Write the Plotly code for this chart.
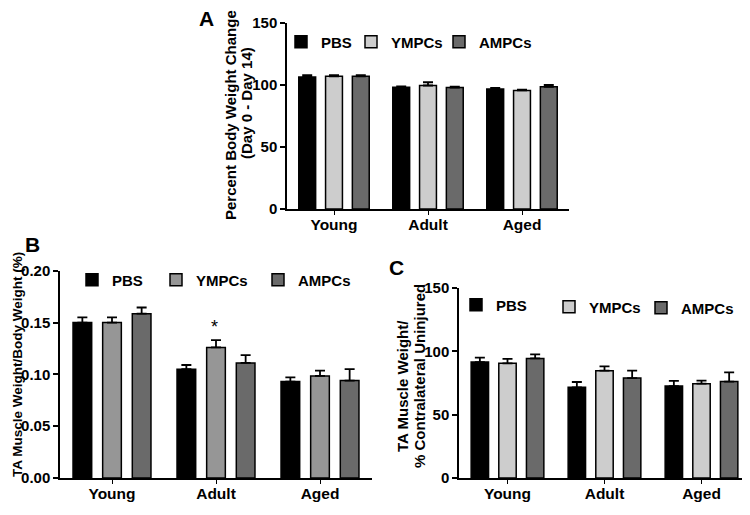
import plotly.graph_objects as go

groups = ["Young", "Adult", "Aged"]
series = ["PBS", "YMPCs", "AMPCs"]

# Panel A: Percent body weight change (Day 0 - Day 14)
a_pbs = [106.5, 98.2, 96.7]
a_pbs_err = [1.5, 0.6, 1.0]
a_ympc = [107.0, 99.6, 95.6]
a_ympc_err = [1.0, 2.6, 0.6]
a_ampc = [107.0, 98.0, 98.6]
a_ampc_err = [1.0, 0.6, 1.4]

# Panel B: TA muscle weight / body weight (%)
b_pbs = [0.150, 0.105, 0.093]
b_pbs_err = [0.005, 0.004, 0.004]
b_ympc = [0.150, 0.126, 0.0985]
b_ympc_err = [0.005, 0.007, 0.005]
b_ampc = [0.1585, 0.111, 0.094]
b_ampc_err = [0.006, 0.0075, 0.011]

# Panel C: TA muscle weight / % contralateral uninjured
c_pbs = [91.5, 71.6, 72.6]
c_pbs_err = [3.6, 4.2, 4.0]
c_ympc = [90.5, 84.7, 74.5]
c_ympc_err = [3.5, 3.4, 2.3]
c_ampc = [94.4, 78.9, 76.1]
c_ampc_err = [3.2, 5.8, 7.3]

# page has an 8px body margin; figure is sized to fit inside the window
OFF = 8
W, H = 742, 499
FONT = "Arial, Liberation Sans, sans-serif"


def px(x):
    return (x - OFF) / W


def py(y):
    return 1 - (y - OFF) / H


panels = [
    ("x", "y", [a_pbs, a_ympc, a_ampc], [a_pbs_err, a_ympc_err, a_ampc_err],
     ["#000000", "#cdcdcd", "#6a6a6a"], ["legend", "legend2", "legend3"],
     [(297, 42), (367, 42), (455, 42)]),
    ("x2", "y2", [b_pbs, b_ympc, b_ampc], [b_pbs_err, b_ympc_err, b_ampc_err],
     ["#000000", "#969696", "#6a6a6a"], ["legend4", "legend5", "legend6"],
     [(88, 280), (172, 280), (274, 280)]),
    ("x3", "y3", [c_pbs, c_ympc, c_ampc], [c_pbs_err, c_ympc_err, c_ampc_err],
     ["#000000", "#cdcdcd", "#6a6a6a"], ["legend7", "legend8", "legend9"],
     [(472, 305), (565, 307), (657, 308)]),
]

fig = go.Figure()
layout_legends = {}
for xa, ya, vals, errs, cols, legs, legpos in panels:
    for name, v, e, c, lg, (lx, ly) in zip(series, vals, errs, cols, legs, legpos):
        fig.add_trace(go.Bar(
            x=groups, y=v, name=name, xaxis=xa, yaxis=ya, legend=lg,
            offsetgroup=name,
            marker=dict(color=c, line=dict(color="#000000", width=1.5)),
            error_y=dict(type="data", array=e, arrayminus=[0] * len(e),
                         symmetric=False, color="#000000", thickness=1.8, width=5),
        ))
        layout_legends[lg] = dict(
            x=px(lx - 16), y=py(ly), xanchor="left", yanchor="middle",
            bgcolor="rgba(0,0,0,0)", borderwidth=0,
            font=dict(family=FONT, size=15, color="#000000", weight="bold"),
            itemwidth=30, tracegroupgap=0,
        )

axis_common = dict(showline=True, linecolor="#000000", linewidth=1.5,
                   showgrid=False, zeroline=False, ticks="outside",
                   tickcolor="#000000", mirror=False, automargin=False,
                   tickfont=dict(family=FONT, size=15, color="#000000", weight="bold"))
xfont = dict(family=FONT, size=15.5, color="#000000", weight="bold")
xax = dict(ticklen=4, tickwidth=1, tickfont=xfont, ticklabelstandoff=-3)

fig.update_layout(
    width=W, height=H, margin=dict(l=0, r=0, t=0, b=0, autoexpand=False),
    paper_bgcolor="white", plot_bgcolor="white",
    barmode="group", bargap=0.145, bargroupgap=0.37,
    showlegend=True,
    xaxis=dict(axis_common, **xax, domain=[px(287), px(569)], anchor="y"),
    yaxis=dict(axis_common, domain=[py(209), py(23)], anchor="x",
               range=[0, 150], dtick=50, ticklen=5, tickwidth=1.5),
    xaxis2=dict(axis_common, **xax, domain=[px(60), px(372)], anchor="y2"),
    yaxis2=dict(axis_common, domain=[py(478), py(270.7)], anchor="x2",
                range=[0, 0.20], dtick=0.05, tickformat=".2f",
                ticklen=5, tickwidth=1.5),
    xaxis3=dict(axis_common, **xax, domain=[px(459), px(750)], anchor="y3"),
    yaxis3=dict(axis_common, domain=[py(478), py(288)], anchor="x3",
                range=[0, 150], dtick=50, ticklen=5, tickwidth=1.5),
    **layout_legends,
)

# y-axis titles (rotated text lines)
ytitles = [
    ("Percent Body Weight Change", 230, 115, 15),
    ("(Day 0 - Day 14)", 247, 103, 15),
    ("TA Muscle Weight/Body Weight (%)", 17, 365, 13.5),
    ("TA Muscle Weight/", 402, 386, 15),
    ("% Contralateral Uninjured", 419, 376, 15),
]
for txt, tx, ty, fs in ytitles:
    fig.add_annotation(x=px(tx), y=py(ty), xref="paper", yref="paper", text=txt,
                       textangle=-90, showarrow=False, xanchor="center", yanchor="middle",
                       font=dict(family=FONT, size=fs, color="#000000", weight="bold"))

fig.add_annotation(x="Adult", y=0.1457, xref="x2", yref="y2", text="*", xshift=-2,
                   showarrow=False, font=dict(family=FONT, size=18, color="#000000"))

for letter, (lx, ly) in zip(["A", "B", "C"], [(206, 18), (32, 245), (396, 267)]):
    fig.add_annotation(x=px(lx), y=py(ly), xref="paper", yref="paper", text=letter,
                       showarrow=False, xanchor="center", yanchor="middle",
                       font=dict(family=FONT, size=21, color="#000000", weight="bold"))

fig.write_html("out.html")
